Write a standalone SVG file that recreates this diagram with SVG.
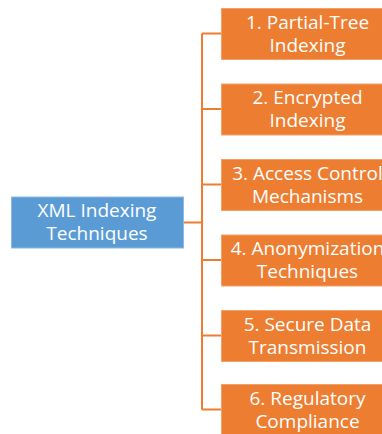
<svg xmlns="http://www.w3.org/2000/svg" width="382" height="434" viewBox="0 0 382 434">
  <style>
    .item rect { fill: #ED7D31; stroke: #F4A06A; stroke-width: 1; }
    .root rect { fill: #5B9BD5; stroke: #8DB9E2; stroke-width: 1; }
    text { font-family: "Open Sans", "Liberation Sans", sans-serif; font-size: 19px; fill: #FFFFFF; text-anchor: middle; }
    .wire { fill: none; stroke: #ED7D31; stroke-width: 2; }
  </style>
  <rect width="382" height="434" fill="#FFFFFF"/>

  <!-- tree connectors -->
  <g id="connectors">
    <path class="wire" d="M183 222.5 H202"/>
    <path class="wire" d="M202 33.5 V409.5"/>
    <path class="wire" d="M202 33.5 H221"/>
    <path class="wire" d="M202 109 H221"/>
    <path class="wire" d="M202 184.5 H221"/>
    <path class="wire" d="M202 260 H221"/>
    <path class="wire" d="M202 335.5 H221"/>
    <path class="wire" d="M202 409.5 H221"/>
  </g>

  <g id="root" class="root">
    <rect x="11.5" y="197" width="172" height="51"/>
    <text x="97" y="216.5">XML Indexing</text>
    <text x="97" y="239.5">Techniques</text>
  </g>

  <g id="item1" class="item">
    <rect x="221.5" y="8.5" width="172" height="51"/>
    <text x="307.5" y="28.5">1. Partial-Tree</text>
    <text x="307.5" y="51.5">Indexing</text>
  </g>
  <g id="item2" class="item">
    <rect x="221.5" y="84" width="172" height="51"/>
    <text x="307.5" y="104">2. Encrypted</text>
    <text x="307.5" y="127">Indexing</text>
  </g>
  <g id="item3" class="item">
    <rect x="221.5" y="159.5" width="172" height="51"/>
    <text x="307.5" y="179.5">3. Access Control</text>
    <text x="307.5" y="202.5">Mechanisms</text>
  </g>
  <g id="item4" class="item">
    <rect x="221.5" y="235" width="172" height="51"/>
    <text x="307.5" y="255">4. Anonymization</text>
    <text x="307.5" y="278">Techniques</text>
  </g>
  <g id="item5" class="item">
    <rect x="221.5" y="310.5" width="172" height="51"/>
    <text x="307.5" y="330.5">5. Secure Data</text>
    <text x="307.5" y="353.5">Transmission</text>
  </g>
  <g id="item6" class="item">
    <rect x="221.5" y="384.5" width="172" height="51"/>
    <text x="307.5" y="404.5">6. Regulatory</text>
    <text x="307.5" y="427.5">Compliance</text>
  </g>
</svg>
